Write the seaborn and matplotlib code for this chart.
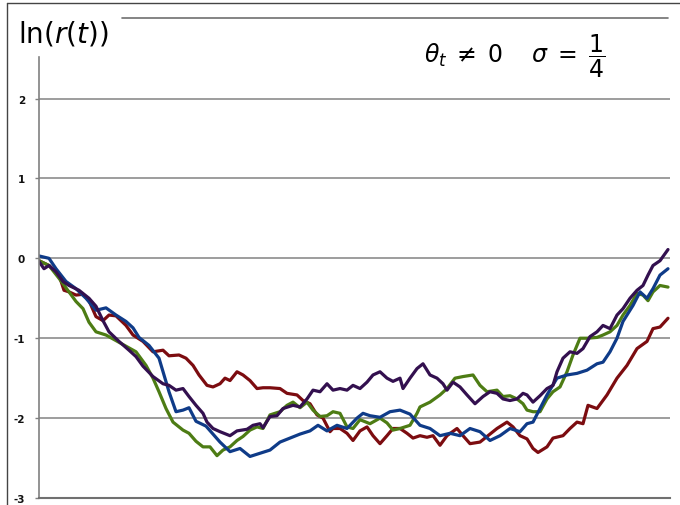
import matplotlib
matplotlib.use("Agg")
import matplotlib.pyplot as plt
import seaborn as sns
import pandas as pd
from matplotlib.lines import Line2D

# ---- data (time steps, ln r(t)) ----
blue_t = [0,10,17,27,37,47,57,67,77,87,94,100,110,120,125,130,137,144,150,157,
          167,174,181,191,201,211,221,231,241,251,261,271,279,288,298,308,318,324,331,341,
          351,361,371,381,391,401,411,421,431,441,451,461,471,481,488,494,501,508,518,528,
          538,548,558,564,571,578,584,594,601,608,614,621,629]
blue_v = [0.03,0.0,-0.13,-0.29,-0.38,-0.5,-0.65,-0.62,-0.71,-0.79,
          -0.87,-0.99,-1.09,-1.25,-1.46,-1.67,-1.92,-1.9,-1.87,-2.04,
          -2.1,-2.2,-2.3,-2.42,-2.38,-2.48,-2.44,-2.4,-2.3,-2.25,
          -2.2,-2.16,-2.09,-2.16,-2.09,-2.13,-2.0,-1.94,-1.97,-1.99,
          -1.92,-1.9,-1.95,-2.09,-2.13,-2.22,-2.19,-2.22,-2.13,-2.17,
          -2.28,-2.22,-2.13,-2.17,-2.07,-2.05,-1.88,-1.71,-1.5,-1.46,
          -1.44,-1.4,-1.32,-1.3,-1.17,-1.0,-0.79,-0.59,-0.42,-0.5,
          -0.38,-0.21,-0.13]

red_t = [0,10,20,25,30,37,44,50,57,64,70,77,87,94,104,114,124,130,140,147,
         154,160,168,174,181,186,191,198,204,211,218,224,231,241,248,258,264,271,278,284,
         291,294,301,308,314,321,328,334,341,348,354,361,368,374,381,388,394,401,408,418,
         424,431,441,448,458,468,474,481,488,494,499,508,514,524,531,538,544,549,558,568,
         578,588,598,608,614,621,629]
red_v = [-0.03,-0.09,-0.21,-0.4,-0.42,-0.46,-0.45,-0.53,-0.73,-0.78,
         -0.71,-0.72,-0.84,-0.96,-1.04,-1.17,-1.15,-1.22,-1.21,-1.25,
         -1.34,-1.46,-1.59,-1.61,-1.57,-1.5,-1.53,-1.42,-1.46,-1.53,
         -1.63,-1.62,-1.62,-1.63,-1.69,-1.71,-1.78,-1.82,-1.96,-2.0,
         -2.17,-2.13,-2.13,-2.19,-2.28,-2.16,-2.11,-2.22,-2.32,-2.22,
         -2.13,-2.13,-2.19,-2.25,-2.22,-2.24,-2.22,-2.34,-2.22,-2.13,
         -2.22,-2.32,-2.3,-2.23,-2.13,-2.05,-2.11,-2.22,-2.26,-2.38,
         -2.43,-2.36,-2.25,-2.22,-2.13,-2.05,-2.07,-1.84,-1.88,-1.71,
         -1.5,-1.34,-1.13,-1.04,-0.88,-0.86,-0.75]

green_t = [0,10,20,30,37,44,50,57,67,77,87,97,107,114,120,127,134,144,150,157,
           164,171,178,184,191,198,204,211,218,224,231,241,248,254,261,268,274,281,288,294,
           301,308,314,321,331,341,348,354,361,371,378,381,391,401,408,416,424,434,441,448,
           458,464,471,478,484,488,494,501,508,514,521,528,534,541,548,558,564,571,578,584,
           591,598,604,609,614,621,629]
green_v = [-0.03,-0.09,-0.25,-0.42,-0.54,-0.63,-0.8,-0.92,-0.96,-1.03,
           -1.1,-1.17,-1.34,-1.5,-1.67,-1.88,-2.05,-2.15,-2.19,-2.29,
           -2.36,-2.36,-2.47,-2.4,-2.36,-2.28,-2.23,-2.15,-2.11,-2.13,
           -1.96,-1.92,-1.84,-1.8,-1.87,-1.8,-1.9,-1.98,-1.97,-1.92,
           -1.94,-2.11,-2.13,-2.02,-2.07,-2.0,-2.06,-2.15,-2.13,-2.09,
           -1.94,-1.86,-1.8,-1.71,-1.63,-1.5,-1.48,-1.46,-1.59,-1.67,
           -1.65,-1.73,-1.72,-1.76,-1.82,-1.9,-1.92,-1.92,-1.76,-1.67,
           -1.61,-1.42,-1.21,-1.0,-1.0,-0.99,-0.96,-0.92,-0.84,-0.71,
           -0.59,-0.44,-0.46,-0.53,-0.42,-0.34,-0.36]

purple_t = [0,5,10,17,24,30,40,50,57,64,70,80,90,97,104,114,124,130,137,144,
            150,157,164,168,174,181,191,198,208,214,221,224,231,238,244,254,261,268,274,281,
            288,294,301,308,314,321,328,334,341,348,354,361,364,371,378,384,391,398,404,408,
            414,421,428,436,444,451,458,464,471,478,484,488,494,501,508,514,518,524,531,538,
            544,551,558,564,571,578,584,591,598,604,609,614,621,629]
purple_v = [-0.04,-0.13,-0.09,-0.17,-0.29,-0.34,-0.4,-0.5,-0.6,-0.78,
            -0.92,-1.04,-1.15,-1.23,-1.35,-1.48,-1.57,-1.59,-1.65,-1.63,
            -1.73,-1.84,-1.94,-2.05,-2.13,-2.17,-2.22,-2.16,-2.14,-2.09,
            -2.07,-2.12,-1.98,-1.97,-1.88,-1.84,-1.86,-1.76,-1.65,-1.67,
            -1.57,-1.65,-1.63,-1.65,-1.59,-1.63,-1.55,-1.46,-1.42,-1.5,
            -1.54,-1.5,-1.63,-1.5,-1.38,-1.32,-1.46,-1.5,-1.57,-1.65,
            -1.55,-1.61,-1.71,-1.82,-1.73,-1.67,-1.69,-1.76,-1.78,-1.76,
            -1.69,-1.71,-1.8,-1.72,-1.63,-1.59,-1.42,-1.25,-1.17,-1.19,
            -1.13,-0.98,-0.92,-0.84,-0.88,-0.71,-0.63,-0.5,-0.4,-0.34,
            -0.21,-0.09,-0.03,0.11]

y_ticks = [-3, -2, -1, 0, 1, 2]
y_tick_labels = ["-3", "-2", "-1", "0", "1", "2"]

series = {"red": (red_t, red_v), "green": (green_t, green_v),
          "blue": (blue_t, blue_v), "purple": (purple_t, purple_v)}
palette = {"red": "#7c0c10", "green": "#4d7c14", "blue": "#0f3b88", "purple": "#33104f"}

frames = []
for name, (t, v) in series.items():
    frames.append(pd.DataFrame({"t": t, "v": v, "series": name}))
df = pd.concat(frames, ignore_index=True)

sns.set_style("white")
plt.rcParams["mathtext.fontset"] = "dejavusans"
plt.rcParams["text.color"] = "black"

W, H = 680, 506
fig = plt.figure(figsize=(W / 100, H / 100), dpi=100)
ax = fig.add_axes([39 / W, 7 / H, (670 - 39) / W, (499 - 58) / H])

sns.lineplot(data=df, x="t", y="v", hue="series", palette=palette,
             estimator=None, sort=False, linewidth=2.3, legend=False, ax=ax)

ax.set_xlim(0, 631)
ax.set_ylim(-3, 2.52)
ax.set_xticks([])
ax.set_yticks(y_ticks)
ax.set_yticklabels(y_tick_labels)
ax.set_xlabel("")
ax.set_ylabel("")
for lbl in ax.get_yticklabels():
    lbl.set_fontsize(7.5)
    lbl.set_fontweight("bold")
    lbl.set_color("#111111")
ax.tick_params(axis="y", left=True, length=3, width=1, color="#808080", pad=7)

for yv in y_ticks[1:]:
    ax.axhline(yv, color="#8c8c8c", lw=1.2, zorder=0)

for s in ["top", "right"]:
    ax.spines[s].set_visible(False)
ax.spines["left"].set_color("#808080")
ax.spines["left"].set_linewidth(1.2)
ax.spines["bottom"].set_color("#707070")
ax.spines["bottom"].set_linewidth(1.5)

# titles
fig.text(18 / W, 1 - 34 / H, r"$\ln(r(t))$", fontsize=20, ha="left", va="center",
         color="black")
fig.text(515 / W, 1 - 56 / H,
         r"$\theta_t \;\neq\; 0 \quad\; \sigma \;=\; \dfrac{1}{4}$",
         fontsize=17, ha="center", va="center", color="black")

# decorative lines
fig.add_artist(Line2D([122 / W, 668 / W], [1 - 19 / H, 1 - 19 / H], color="#707070", lw=1.2))
fig.add_artist(Line2D([6.5 / W, 1], [1 - 3.5 / H, 1 - 3.5 / H], color="#444444", lw=1.0))
fig.add_artist(Line2D([6.5 / W, 6.5 / W], [0, 1 - 3.5 / H], color="#444444", lw=1.0))

fig.savefig("out.png", dpi=100)
